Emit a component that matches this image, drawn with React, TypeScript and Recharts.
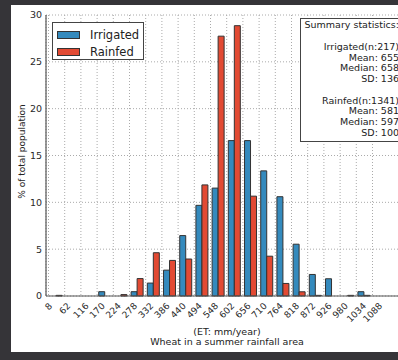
import React from 'react';
import { BarChart, Bar, XAxis, YAxis, CartesianGrid, Legend, Label } from 'recharts';

// bin edges of the ET histogram (mm/year)
const binStarts = [8, 62, 116, 170, 224, 278, 332, 386, 440, 494, 548, 602, 656, 710, 764, 818, 872, 926, 980, 1034];
const edgeTicks = [8, 62, 116, 170, 224, 278, 332, 386, 440, 494, 548, 602, 656, 710, 764, 818, 872, 926, 980, 1034, 1088];

// % of total population per bin
const irrigated = [0, 0, 0, 0.46, 0, 0.46, 1.38, 2.76, 6.45, 9.68, 11.52, 16.59, 16.59, 13.36, 10.6, 5.53, 2.3, 1.84, 0, 0.46];
const rainfed = [0.07, 0, 0, 0, 0.15, 1.86, 4.62, 3.8, 3.95, 11.86, 27.74, 28.86, 10.66, 4.25, 1.34, 0.45, 0.07, 0, 0.07, 0.07];

const yTicks = [0, 5, 10, 15, 20, 25, 30];

const summaryLines = [
  'Summary statistics:',
  '',
  'Irrigated(n:217)',
  'Mean: 655',
  'Median: 658',
  'SD: 136',
  '',
  'Rainfed(n:1341)',
  'Mean: 581',
  'Median: 597',
  'SD: 100',
];

const BLUE = '#348ABD';
const RED = '#E24A33';
const FONT = '"DejaVu Sans", sans-serif';
const AXIS_PAD = { left: 2.5, right: 35.5 };

const data = binStarts.map((start, i) => ({
  bin: String(start),
  start,
  irrigated: irrigated[i],
  rainfed: rainfed[i],
}));

function XTick({ x, y, payload }: any) {
  const label = String(payload.value);
  // matplotlib style: rotated 45deg, centred on the tick
  const w = label.length * 5.7;
  const half = ((w + 6.5) * 0.7071) / 2;
  const cy = y + 6 + half;
  return (
    <text
      x={x}
      y={cy}
      dy="0.36em"
      textAnchor="middle"
      transform={`rotate(-45 ${x} ${cy})`}
      fill="#2a2a2a"
      fontSize={9}
      fontFamily={FONT}
    >
      {label}
    </text>
  );
}

function XLabel({ viewBox }: any) {
  const cx = viewBox.x + viewBox.width / 2;
  return (
    <g fill="#222" fontSize={9.5} fontFamily={FONT} textAnchor="middle">
      <text x={cx} y={326.7} dy="0.35em">(ET: mm/year)</text>
      <text x={cx} y={337} dy="0.35em">Wheat in a summer rainfall area</text>
    </g>
  );
}

function YLabel({ viewBox }: any) {
  const cy = viewBox.y + viewBox.height / 2 - 4;
  return (
    <text
      x={10.5}
      y={cy}
      dy="0.35em"
      textAnchor="middle"
      transform={`rotate(-90 10.5 ${cy})`}
      fill="#222"
      fontSize={9}
      fontFamily={FONT}
    >
      % of total population
    </text>
  );
}

function LegendBox() {
  const items = [
    { name: 'Irrigated', color: BLUE },
    { name: 'Rainfed', color: RED },
  ];
  return (
    <div
      style={{
        border: '1.5px solid #444',
        background: '#fff',
        width: 92,
        height: 38.5,
        boxSizing: 'border-box',
        padding: '4px 0 0 4px',
        fontFamily: FONT,
        fontSize: 11.5,
        color: '#222',
      }}
    >
      {items.map((it) => (
        <div key={it.name} style={{ display: 'flex', alignItems: 'center', height: 16.8 }}>
          <span
            style={{
              display: 'inline-block',
              width: 23,
              height: 7.5,
              background: it.color,
              border: '1px solid #333',
              boxSizing: 'border-box',
              marginRight: 10,
            }}
          />
          <span>{it.name}</span>
        </div>
      ))}
    </div>
  );
}

export default function App() {
  return (
    <div
      style={{
        position: 'fixed',
        left: 0,
        top: 0,
        width: 398,
        height: 360,
        background: '#353438',
        overflow: 'hidden',
      }}
    >
      <div
        style={{
          position: 'absolute',
          left: 11,
          top: 5,
          width: 430,
          height: 347,
          background: '#fff',
        }}
      >
        <BarChart
          width={397}
          height={347}
          data={data}
          margin={{ top: 10, right: 0, bottom: 0, left: 0 }}
          barCategoryGap="10%"
          barGap={0}
        >
          <CartesianGrid
            xAxisId="et"
            stroke="#aaa"
            strokeDasharray="1 2"
          />
          <XAxis
            xAxisId="et"
            dataKey="start"
            type="number"
            domain={[8, 1088]}
            allowDataOverflow
            ticks={edgeTicks}
            interval={0}
            padding={AXIS_PAD}
            height={56}
            tickLine={false}
            tickSize={0}
            tickMargin={0}
            tick={<XTick />}
            axisLine={{ stroke: '#555', strokeWidth: 1.2 }}
          >
            <Label content={<XLabel />} />
          </XAxis>
          <XAxis xAxisId="bins" dataKey="bin" type="category" hide height={0} padding={AXIS_PAD} />
          <XAxis
            xAxisId="top"
            orientation="top"
            type="number"
            domain={[8, 1088]}
            allowDataOverflow
            padding={AXIS_PAD}
            height={0}
            tick={false}
            tickLine={false}
            axisLine={{ stroke: '#555', strokeWidth: 1.2 }}
          />
          <YAxis
            type="number"
            domain={[0, 30]}
            ticks={yTicks}
            interval={0}
            width={35}
            tickLine={false}
            tickSize={0}
            tickMargin={4}
            tick={{ fill: '#2a2a2a', fontSize: 9.5, fontFamily: FONT }}
            axisLine={{ stroke: '#555', strokeWidth: 1.2 }}
          >
            <Label content={<YLabel />} />
          </YAxis>
          <Legend
            layout="vertical"
            align="center"
            verticalAlign="middle"
            content={<LegendBox />}
            wrapperStyle={{ left: 41, top: 16.7, width: 'auto', height: 'auto' }}
          />
          <Bar
            xAxisId="bins"
            dataKey="irrigated"
            name="Irrigated"
            fill={BLUE}
            stroke="#333"
            strokeWidth={1}
            isAnimationActive={false}
          />
          <Bar
            xAxisId="bins"
            dataKey="rainfed"
            name="Rainfed"
            fill={RED}
            stroke="#333"
            strokeWidth={1}
            isAnimationActive={false}
          />
        </BarChart>
        <div
          style={{
            position: 'absolute',
            left: 289,
            top: 13.3,
            width: 130,
            height: 123.4,
            boxSizing: 'border-box',
            border: '1.5px solid #444',
            background: '#fff',
            padding: '1px 30px 0 0',
            textAlign: 'right',
            fontFamily: FONT,
            fontSize: 9.5,
            lineHeight: '10.75px',
            color: '#222',
            whiteSpace: 'pre',
          }}
        >
          {summaryLines.map((line, i) => (
            <div key={i} style={{ height: 10.75 }}>{line || ' '}</div>
          ))}
        </div>
      </div>
    </div>
  );
}
